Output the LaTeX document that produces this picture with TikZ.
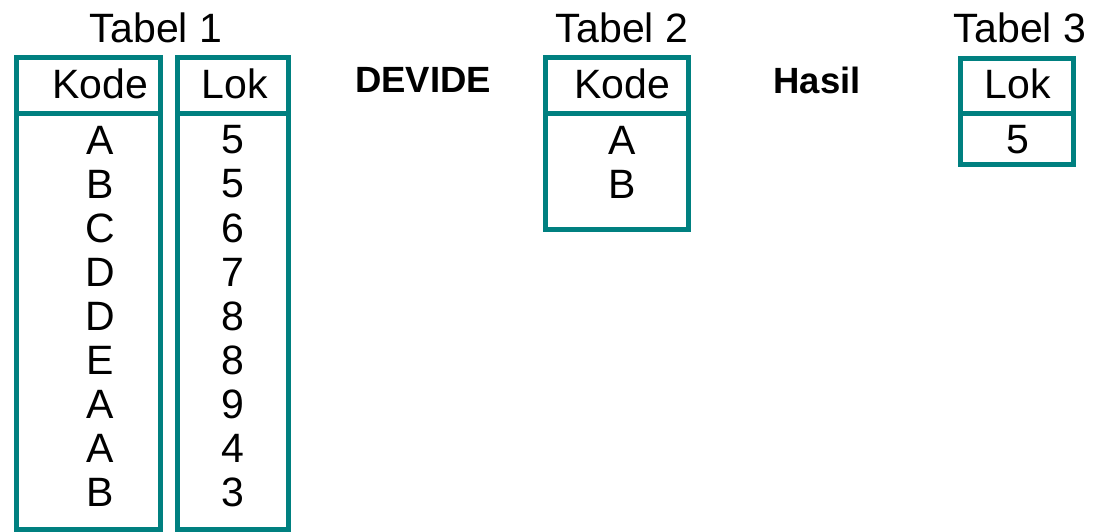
\documentclass[tikz,border=0pt]{standalone}
\usepackage{fontspec}
\setmainfont{Liberation Sans}
\usepackage{tikz}
\usetikzlibrary{positioning}
\definecolor{tabteal}{RGB}{0,128,128}
\tikzset{
    tabbox/.style={draw=tabteal, line width=5pt},
    cell/.style={font=\fontsize{41}{49}\selectfont, inner sep=0pt, anchor=center},
    title/.style={font=\fontsize{41}{49}\selectfont, inner sep=0pt},
    op/.style={font=\fontsize{36.5}{44}\selectfont\bfseries, inner sep=0pt},
}

\begin{document}
\begin{tikzpicture}[x=1pt, y=-1pt]
\useasboundingbox (0,0) rectangle (1094,532);
% Tabel 1
\node[title] (t1) at (156,28) {Tabel 1};
\draw[tabbox] (16.5,58) rectangle (160,529);
\draw[tabbox] (16.5,114) -- (160,114);
\draw[tabbox] (177,58) rectangle (288,529);
\draw[tabbox] (177,114) -- (288,114);
\node[cell] (k1h) at (100,84) {Kode};
\node[cell] (l1h) at (235,84) {Lok};
\foreach \k/\l [count=\i] in {A/5,B/5,C/6,D/7,D/8,E/8,A/9,A/4,B/3}
{
    \node[cell] (k1\i) at (100,96+44*\i) {\k};
    \node[cell] (l1\i) at (233,96+44*\i) {\l};
}
% operator
\node[op] (devide) at (423,80) {DEVIDE};
% Tabel 2
\node[title] (t2) at (622,28) {Tabel 2};
\draw[tabbox] (545.5,58) rectangle (688.5,229);
\draw[tabbox] (545.5,114) -- (688.5,114);
\node[cell] (k2h) at (622,84) {Kode};
\node[cell] (k21) at (622,140) {A};
\node[cell] (k22) at (622,184) {B};
% result
\node[op] (hasil) at (817,80) {Hasil};
% Tabel 3
\node[title] (t3) at (1020,28) {Tabel 3};
\draw[tabbox] (960.5,59) rectangle (1073,164);
\draw[tabbox] (960.5,114) -- (1073,114);
\node[cell] (l3h) at (1018,84) {Lok};
\node[cell] (l31) at (1018,140) {5};
\end{tikzpicture}
\end{document}
